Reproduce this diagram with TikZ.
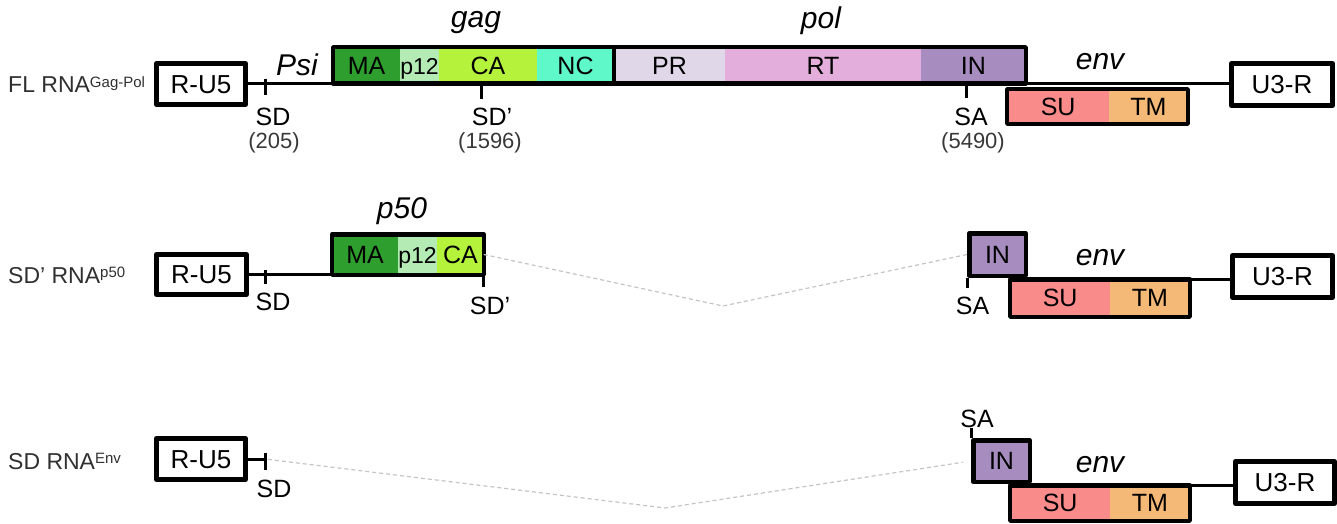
\documentclass[tikz,border=0pt]{standalone}
\usepackage{fontspec}
\setmainfont{Liberation Sans}
\usetikzlibrary{calc}
\definecolor{cMA}{HTML}{2E9E2E}
\definecolor{cP12}{HTML}{B4EAB4}
\definecolor{cCA}{HTML}{B5F23C}
\definecolor{cNC}{HTML}{5FF8C8}
\definecolor{cPR}{HTML}{E0D8E9}
\definecolor{cRT}{HTML}{E3AEDB}
\definecolor{cIN}{HTML}{A78CC0}
\definecolor{cSU}{HTML}{F98B8B}
\definecolor{cTM}{HTML}{F5B977}
\definecolor{dashgray}{HTML}{C4C4C4}
\definecolor{labgray}{HTML}{303030}
\definecolor{numgray}{HTML}{383838}
\newcommand\supx[1]{\raisebox{5.5pt}{\fontsize{15}{15}\selectfont #1}}
\begin{document}
\begin{tikzpicture}[x=1pt,y=-1pt,
  ltr/.style={draw, line width=5pt, line join=round, fill=white, inner sep=0pt, text height=18.6pt, text depth=0pt, font=\fontsize{26}{26}\selectfont},
  seg/.style={inner sep=0pt, outer sep=0pt, text height=17.9pt, text depth=0pt, font=\fontsize{25}{25}\selectfont},
  boxline/.style={line width=4.5pt, line join=round},
  bb/.style={line width=3pt},
  thinl/.style={line width=2.5pt},
  dsh/.style={draw=dashgray, line width=1.2pt, dash pattern=on 4pt off 3pt},
  lab/.style={anchor=base west, inner sep=0pt, text=labgray, font=\fontsize{23}{23}\selectfont},
  ital/.style={anchor=base, inner sep=0pt, font=\fontsize{30}{30}\selectfont\itshape},
  site/.style={anchor=base, inner sep=0pt, font=\fontsize{25}{25}\selectfont},
  num/.style={anchor=base, inner sep=0pt, text=numgray, font=\fontsize{22}{22}\selectfont},
]
\useasboundingbox (0,0) rectangle (1337,524);

% ================= Row 1 : FL RNA =================
\node[lab] (lab1) at (8,93) {FL RNA\supx{Gag-Pol}};
\node[ltr, minimum width=89pt, minimum height=41pt] (ru1) at (201,84) {R-U5};
\node[seg, fill=cMA,  minimum width=66.75pt, minimum height=36.5pt] (ma1)  at (366.6,65.5) {MA};
\node[seg, fill=cP12, minimum width=39pt,    minimum height=36.5pt] (p121) at (419.5,65.5) {\fontsize{23}{23}\selectfont p12};
\node[seg, fill=cCA,  minimum width=98pt,    minimum height=36.5pt] (ca1)  at (488,65.5) {CA};
\node[seg, fill=cNC,  minimum width=77pt,    minimum height=36.5pt] (nc1)  at (575.5,65.5) {NC};
\node[seg, fill=cPR,  minimum width=111pt,   minimum height=36.5pt] (pr1)  at (669.5,65.5) {PR};
\node[seg, fill=cRT,  minimum width=196pt,   minimum height=36.5pt] (rt1)  at (823,65.5) {RT};
\node[seg, fill=cIN,  minimum width=104.75pt,minimum height=36.5pt] (in1)  at (973.4,65.5) {IN};
\draw[boxline] (ma1.north west) rectangle (in1.south east);
\draw[boxline] (nc1.north east) -- (nc1.south east);

\draw[bb] (ru1.east) -- (ru1.east -| ma1.west);
\coordinate (sd1) at (265,84);
\draw[bb] (sd1) ++(0,-5) -- ++(0,16);
\node[ital] (psi) at (297,76) {Psi};
\node[ital] (gag) at (476,28) {gag};
\node[ital] (pol) at (821,29) {pol};
\node[site] (sdl1) at (273,125) {SD};
\node[num] (n205) at (274,148.5) {(205)};

\coordinate (sdp1) at (481,85);
\draw[bb] (sdp1) -- ++(0,14);
\node[site] (sdpl1) at (492,125) {SD’};
\node[num] (n1596) at (490,148.5) {(1596)};

\coordinate (sa1) at (966,85);
\draw[bb] (sa1) -- ++(0,13);
\node[site] (sal1) at (971,125) {SA};
\node[num] (n5490) at (973,148.5) {(5490)};

\node[ltr, minimum width=101pt, minimum height=42pt] (u3r1) at (1282,84.5) {U3-R};
\node[seg, fill=cSU, minimum width=101.75pt, minimum height=34.5pt] (su1) at (1058.1,106.5) {SU};
\node[seg, fill=cTM, minimum width=78.75pt,  minimum height=34.5pt] (tm1) at (1148.4,106.5) {TM};
\draw[boxline] (su1.north west) rectangle (tm1.south east);
\draw[thinl] (in1.south east) -- (in1.south east -| u3r1.west);
\node[ital] (env1) at (1100,70) {env};

% ================= Row 2 : SD' RNA p50 =================
\node[lab] (lab2) at (8,283) {SD’ RNA\supx{p50}};
\node[ltr, minimum width=90pt, minimum height=40pt] (ru2) at (201.5,274.5) {R-U5};
\node[seg, fill=cMA,  minimum width=65.75pt, minimum height=40.5pt] (ma2)  at (365.1,254.5) {MA};
\node[seg, fill=cP12, minimum width=39pt,    minimum height=40.5pt] (p122) at (417.5,254.5) {\fontsize{23}{23}\selectfont p12};
\node[seg, fill=cCA,  minimum width=46.75pt, minimum height=40.5pt] (ca2)  at (460.4,254.5) {CA};
\draw[boxline] (ma2.north west) rectangle (ca2.south east);
\draw[bb] (ru2.east) -- (ru2.east -| ma2.west);
\coordinate (sd2) at (265,275);
\draw[bb] (sd2) ++(0,-5) -- ++(0,14);
\node[site] (sdl2) at (273,310) {SD};
\node[ital] (p50) at (402,218) {p50};
\draw[bb] (ca2.south east) -- ++(0,12);
\node[site] (sdpl2) at (490,314) {SD’};

\coordinate (v2) at (723,306);
\node[seg, draw, line width=4.5pt, line join=round, outer sep=2.25pt, fill=cIN, minimum width=56.5pt, minimum height=42.5pt] (in2) at (997.5,254.5) {IN};
\draw[dsh] (ca2.east) -- (v2) -- (in2.west);
\draw[bb] (in2.south west) -- ++(0,10);
\node[site] (sal2) at (972.5,314) {SA};

\node[seg, fill=cSU, minimum width=99.75pt, minimum height=37.5pt] (su2) at (1060.1,298) {SU};
\node[seg, fill=cTM, minimum width=79.75pt, minimum height=37.5pt] (tm2) at (1149.9,298) {TM};
\draw[boxline] (su2.north west) rectangle (tm2.south east);
\node[ltr, minimum width=100pt, minimum height=42pt] (u3r2) at (1282.5,276.5) {U3-R};
\draw[thinl] (tm2.north east) -- (tm2.north east -| u3r2.west);
\node[ital] (env2) at (1100,265) {env};

% ================= Row 3 : SD RNA Env =================
\node[lab] (lab3) at (8,469) {SD RNA\supx{Env}};
\node[ltr, minimum width=89pt, minimum height=41pt] (ru3) at (201,459) {R-U5};
\coordinate (sd3) at (265,459);
\draw[bb] (ru3.east) -- (sd3);
\draw[bb] (sd3) ++(0,-6) -- ++(0,17);
\node[site] (sdl3) at (274,497) {SD};

\coordinate (v3) at (665,508);
\node[seg, draw, line width=4.5pt, line join=round, outer sep=2.25pt, fill=cIN, minimum width=56.5pt, minimum height=41.5pt] (in3) at (1001.5,461) {IN};
\draw[dsh, shorten <=3pt, shorten >=8pt] (sd3) -- (v3) -- (in3.west);
\draw[bb] (in3.north west) -- ++(0,-10);
\node[site] (sal3) at (977,427) {SA};

\node[seg, fill=cSU, minimum width=99.75pt, minimum height=35.5pt] (su3) at (1060.1,503) {SU};
\node[seg, fill=cTM, minimum width=79.75pt, minimum height=35.5pt] (tm3) at (1149.9,503) {TM};
\draw[boxline] (su3.north west) rectangle (tm3.south east);
\node[ltr, minimum width=99pt, minimum height=42pt] (u3r3) at (1285,482.5) {U3-R};
\draw[thinl] (tm3.north east) -- (tm3.north east -| u3r3.west);
\node[ital] (env3) at (1100,472) {env};
\end{tikzpicture}
\end{document}
